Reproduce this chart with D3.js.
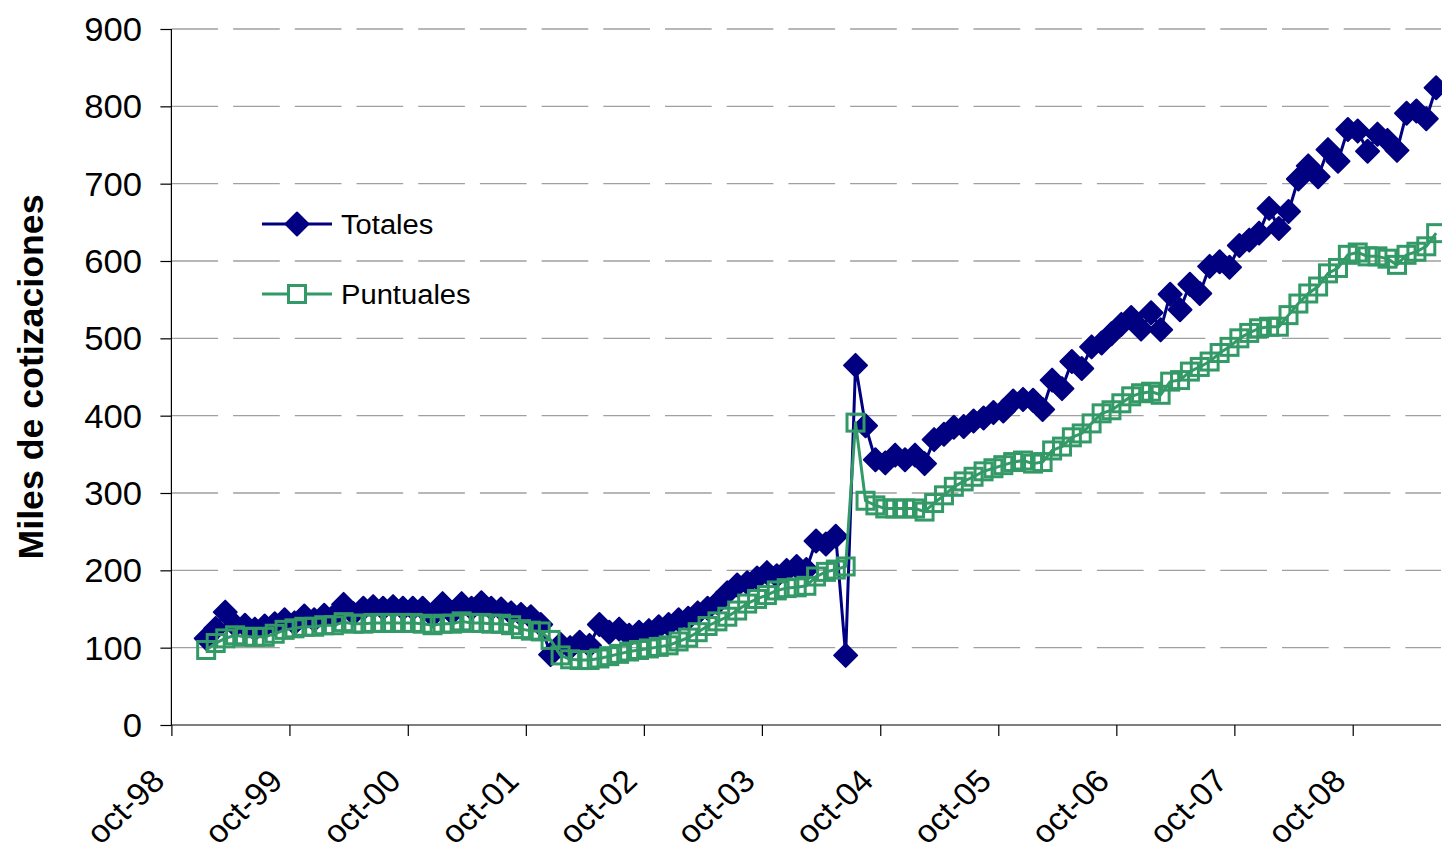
<!DOCTYPE html>
<html><head><meta charset="utf-8">
<script src="https://cdn.jsdelivr.net/npm/d3@7"></script>
<style>
body{margin:0;background:#fff}
svg{display:block}
text{font-family:"Liberation Sans",Arial,Helvetica,sans-serif;fill:#000}
</style>
</head><body>
<svg id="chart" width="1442" height="857"></svg>
<script>
// ---------- data ----------
const firstMonth = new Date(1999, 0, 1);   // ene-99
const lastMonthEnd = new Date(2009, 6, 1); // up to jun-09 inclusive
const months = d3.timeMonth.range(firstMonth, lastMonthEnd);

const seriesNames = ["Totales", "Puntuales"];

const totales = [
 112,125,146,129,129,124,128,131,136,132,141,136,142,141,156,144,151,153,151,153,151,151,151,142,157,145,157,151,158,151,150,145,143,140,130,91,
 104,100,107,103,130,120,124,116,120,122,127,130,136,138,145,151,158,171,181,184,190,197,193,200,205,201,238,234,244,90,
 465,387,343,339,349,343,349,338,369,376,385,386,393,397,404,406,419,421,420,408,446,435,470,461,489,494,506,518,527,512,533,511,
 557,537,570,558,593,599,592,620,627,636,668,642,664,706,723,709,744,729,770,768,742,764,756,743,791,794,784,824
];

const puntuales = [
 97,106,112,116,114,114,114,118,123,125,127,127,129,129,133,131,131,132,132,132,132,132,131,129,131,131,134,132,132,131,131,129,124,122,121,110,
 90,85,84,84,86,89,92,95,97,99,101,103,108,113,120,128,134,140,148,157,163,168,174,177,178,180,192,198,201,205,
 391,290,284,280,280,280,280,276,287,297,308,315,321,328,332,336,340,342,338,340,355,360,372,377,390,403,407,416,425,429,431,427,
 444,446,457,463,470,481,489,500,507,513,515,515,530,545,558,567,584,591,608,611,606,606,603,595,608,612,619,636
];

const yTicks = [0,100,200,300,400,500,600,700,800,900];
const xTickLabels = ["oct-98","oct-99","oct-00","oct-01","oct-02","oct-03","oct-04","oct-05","oct-06","oct-07","oct-08"];
const xTickDates = xTickLabels.map((l, i) => new Date(1998 + i, 9, 1));

(function () {
// ---------- layout ----------
const svg = d3.select("#chart");
const pL = 171.4, pR = 1441, pT = 29, pB = 725;
const SX = 1.05; // slight horizontal text stretch seen in the picture

const x = d3.scaleTime().domain([new Date(1998, 9, 1), lastMonthEnd]).range([pL, pR]);
const y = d3.scaleLinear().domain([0, 900]).range([pB, pT]);
const mid = d => new Date((+d + +d3.timeMonth.offset(d, 1)) / 2);

// gridlines
svg.append("g").selectAll("line").data(yTicks.filter(v => v > 0)).join("line")
  .attr("x1", pL).attr("x2", pR)
  .attr("y1", d => y(d)).attr("y2", d => y(d))
  .attr("stroke", "#a0a0a0").attr("stroke-width", 1.3)
  .attr("stroke-dasharray", "46.7,15");

// y axis
const yAxis = svg.append("g").attr("transform", `translate(${pL},0)`)
  .call(d3.axisLeft(y).tickValues(yTicks).tickSize(11).tickFormat(""));
yAxis.select(".domain").attr("stroke", "#000").attr("stroke-width", 1.2).attr("d", `M0,${pT}V${pB}`);
yAxis.selectAll(".tick line").attr("stroke", "#000").attr("stroke-width", 1.2);

svg.append("g").selectAll("text").data(yTicks).join("text")
  .attr("transform", d => `translate(142,${y(d)}) scale(${SX},1)`)
  .attr("text-anchor", "end").attr("dy", "0.36em")
  .style("font-size", "33px")
  .text(d => d);

// x axis
const xAxis = svg.append("g").attr("transform", `translate(0,${pB})`)
  .call(d3.axisBottom(x).tickValues(xTickDates).tickSize(11).tickFormat(""));
xAxis.select(".domain").attr("stroke", "#000").attr("stroke-width", 1.2).attr("d", `M${pL},0H${pR}`);
xAxis.selectAll(".tick line").attr("stroke", "#000").attr("stroke-width", 1.2);

svg.append("g").selectAll("text").data(xTickDates).join("text")
  .attr("transform", d => `translate(${x(d) - 5},783) scale(${SX},1) rotate(-45)`)
  .attr("text-anchor", "end")
  .style("font-size", "32px")
  .text((d, i) => xTickLabels[i]);

// y title
svg.append("text")
  .attr("transform", `translate(43,377) rotate(-90)`)
  .attr("text-anchor", "middle")
  .attr("textLength", 365).attr("lengthAdjust", "spacingAndGlyphs")
  .style("font-size", "35px").style("font-weight", "bold")
  .text("Miles de cotizaciones");

// ---------- series ----------
const blue = "#000080", green = "#339966";
const diamond = "M0,-11.5L11.5,0L0,11.5L-11.5,0Z";
const line = d3.line().x(d => x(mid(d.m))).y(d => y(d.v));

const dT = months.map((m, i) => ({m, v: totales[i]}));
const dP = months.map((m, i) => ({m, v: puntuales[i]}));

const gT = svg.append("g");
gT.append("path").datum(dT).attr("d", line)
  .attr("fill", "none").attr("stroke", blue).attr("stroke-width", 3).attr("stroke-linejoin", "round");
gT.selectAll("path.mk").data(dT).join("path").attr("class", "mk")
  .attr("transform", d => `translate(${x(mid(d.m))},${y(d.v)})`)
  .attr("d", diamond).attr("fill", blue).attr("stroke", blue).attr("stroke-width", 2).attr("stroke-linejoin", "round");

const gP = svg.append("g");
gP.append("path").datum(dP).attr("d", line)
  .attr("fill", "none").attr("stroke", green).attr("stroke-width", 3).attr("stroke-linejoin", "round");
gP.selectAll("rect").data(dP).join("rect")
  .attr("x", d => x(mid(d.m)) - 8.5).attr("y", d => y(d.v) - 8.5)
  .attr("width", 17).attr("height", 17)
  .attr("fill", "none").attr("stroke", green).attr("stroke-width", 3);

// ---------- legend ----------
const leg = svg.append("g");
const legY = [224, 294];
leg.append("line").attr("x1", 262).attr("x2", 332).attr("y1", legY[0]).attr("y2", legY[0]).attr("stroke", blue).attr("stroke-width", 3);
leg.append("path").attr("transform", `translate(297,${legY[0]})`).attr("d", diamond)
  .attr("fill", blue).attr("stroke", blue).attr("stroke-width", 2).attr("stroke-linejoin", "round");
leg.append("line").attr("x1", 262).attr("x2", 332).attr("y1", legY[1]).attr("y2", legY[1]).attr("stroke", green).attr("stroke-width", 3);
leg.append("rect").attr("x", 297 - 8.5).attr("y", legY[1] - 8.5).attr("width", 17).attr("height", 17)
  .attr("fill", "#fff").attr("stroke", green).attr("stroke-width", 3);
leg.selectAll("text").data(seriesNames).join("text")
  .attr("transform", (d, i) => `translate(341,${legY[i] + 10}) scale(1.08,1)`)
  .style("font-size", "27px")
  .text(d => d);
})();
</script>
</body></html>
